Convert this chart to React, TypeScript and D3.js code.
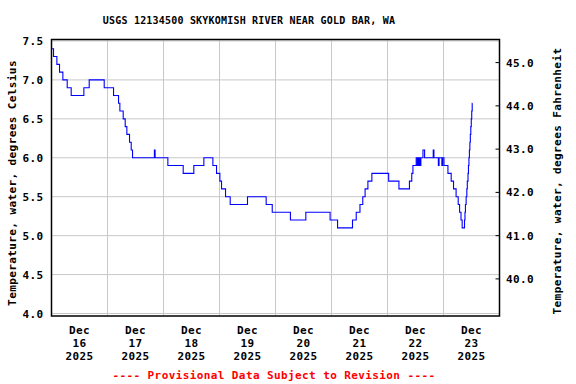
import React from "react";
import * as d3 from "d3";

const TITLE = "USGS 12134500 SKYKOMISH RIVER NEAR GOLD BAR, WA";
const Y_LABEL_LEFT = "Temperature, water, degrees Celsius";
const Y_LABEL_RIGHT = "Temperature, water, degrees Fahrenheit";
const FOOTER = "---- Provisional Data Subject to Revision ----";

// hours after 2025-12-16 00:00 at which the reading changed, and the new reading (deg C)
const changeHours = [
  0, 0.87, 2.3, 3.44, 4.87, 6.73, 8.44, 13.87, 16.16, 22.59, 26.59, 28.73, 29.3, 30.73,
  31.59, 32.3, 33.44, 34.16, 34.73, 44.1, 44.4, 49.87, 56.44, 61.0, 65.3, 69.16, 70.73,
  72.16, 72.87, 74.59, 76.59, 84.0, 92.0, 94.6, 102.4, 109.0, 119.4, 122.6, 129.0, 130.6,
  132.2, 133.4, 134.4, 135.6, 137.3, 144.5, 148.9, 153.4, 154.4, 154.9, 156.3, 156.8,
  157.1, 157.4, 157.7, 158.0, 158.3, 159.2, 159.9, 163.6, 163.9, 165.8, 166.1, 167.3,
  167.6, 168.2, 169.9, 171.3, 172.3, 173.4, 174.3, 174.9, 175.5, 176.0, 177.0, 177.2,
  177.4, 177.7, 178.0, 178.2, 178.5, 178.7, 178.9, 179.1, 179.3, 179.5, 179.7, 179.9,
  180.1, 180.3,
];
const tempC = [
  7.4, 7.3, 7.2, 7.1, 7.0, 6.9, 6.8, 6.9, 7.0, 6.9, 6.8, 6.7, 6.6, 6.5,
  6.4, 6.3, 6.2, 6.1, 6.0, 6.1, 6.0, 5.9, 5.8, 5.9, 6.0, 5.9, 5.8,
  5.7, 5.6, 5.5, 5.4, 5.5, 5.4, 5.3, 5.2, 5.3, 5.2, 5.1, 5.2, 5.3,
  5.4, 5.5, 5.6, 5.7, 5.8, 5.7, 5.6, 5.7, 5.8, 5.9, 6.0, 5.9,
  6.0, 5.9, 6.0, 5.9, 6.0, 6.1, 6.0, 6.1, 6.0, 5.9, 6.0, 5.9,
  6.0, 5.9, 5.8, 5.7, 5.6, 5.5, 5.4, 5.3, 5.2, 5.1, 5.2, 5.3,
  5.4, 5.5, 5.6, 5.7, 5.8, 5.9, 6.0, 6.1, 6.2, 6.3, 6.4, 6.5,
  6.6, 6.7,
];
const lastHour = 180.4;

const cTicks = [4.0, 4.5, 5.0, 5.5, 6.0, 6.5, 7.0, 7.5];
const fTicks = [40, 41, 42, 43, 44, 45];
const dayLabels = ["16", "17", "18", "19", "20", "21", "22", "23"];
const monthLabel = "Dec";
const yearLabel = "2025";

const W = 576;
const H = 384;
const left = 51.5;
const right = 499.5;
const top = 39.5;
const bottom = 316;

export default function App() {
  const start = new Date(Date.UTC(2025, 11, 16));
  const end = new Date(Date.UTC(2025, 11, 24));
  const x = d3.scaleUtc().domain([start, end]).range([left, right]);
  const y = d3.scaleLinear().domain([3.968, 7.519]).range([bottom, top]);
  const yF = d3
    .scaleLinear()
    .domain([3.968 * 1.8 + 32, 7.519 * 1.8 + 32])
    .range([bottom, top]);
  const t = (h: number) => new Date(start.getTime() + h * 3600 * 1000);

  const pts: [Date, number][] = changeHours.map((h, i) => [t(h), tempC[i]]);
  pts.push([t(lastHour), tempC[tempC.length - 1]]);

  const line = d3
    .line<[Date, number]>()
    .x((d) => x(d[0]))
    .y((d) => y(d[1]))
    .curve(d3.curveStepAfter);

  const days = d3.utcDay.range(start, end);
  const font = "'DejaVu Sans Mono', monospace";

  return (
    <svg
      width={W}
      height={H}
      style={{ position: "absolute", left: 0, top: 0, background: "#fff" }}
      fontFamily={font}
      fontWeight="bold"
    >
      <rect x={0} y={0} width={W} height={H} fill="#fff" />
      <text x={249} y={24} textAnchor="middle" fontSize={10} letterSpacing={0.2} fill="#000">
        {TITLE}
      </text>
      {/* grid */}
      {cTicks.map((c) => (
        <line key={"h" + c} x1={left} x2={right} y1={y(c)} y2={y(c)} stroke="#c8c8c8" strokeWidth={1} />
      ))}
      {days.slice(1).map((d) => (
        <line key={"v" + d.getTime()} x1={x(d)} x2={x(d)} y1={top} y2={bottom} stroke="#c8c8c8" strokeWidth={1} />
      ))}
      {/* data */}
      <path d={line(pts) || ""} fill="none" stroke="#0000ff" strokeWidth={1.1} />
      {/* frame */}
      <rect x={left} y={top} width={right - left} height={bottom - top} fill="none" stroke="#000" strokeWidth={1.5} />
      {/* right ticks */}
      {fTicks.map((f) => (
        <line key={"ft" + f} x1={right - 4} x2={right} y1={yF(f)} y2={yF(f)} stroke="#000" strokeWidth={1} />
      ))}
      {/* left labels */}
      {cTicks.map((c) => (
        <text key={"cl" + c} x={43.5} y={y(c) + 4} textAnchor="end" fontSize={11} letterSpacing={0.4} fill="#000">
          {c.toFixed(1)}
        </text>
      ))}
      {/* right labels */}
      {fTicks.map((f) => (
        <text key={"fl" + f} x={506} y={yF(f) + 4} textAnchor="start" fontSize={11} letterSpacing={0.4} fill="#000">
          {f.toFixed(1)}
        </text>
      ))}
      {/* x labels */}
      {days.map((d, i) => {
        const cx = x(new Date(d.getTime() + 12 * 3600 * 1000));
        return (
          <g key={"xl" + i} fontSize={11} fill="#000">
            <text x={cx} y={334} textAnchor="middle" letterSpacing={0.4}>{monthLabel}</text>
            <text x={cx} y={347} textAnchor="middle" letterSpacing={0.4}>{dayLabels[i]}</text>
            <text x={cx} y={360} textAnchor="middle" letterSpacing={0.4}>{yearLabel}</text>
          </g>
        );
      })}
      {/* axis titles */}
      <text
        transform={`translate(16,${183}) rotate(-90)`}
        textAnchor="middle"
        fontSize={11}
        letterSpacing={0.4}
        fill="#000"
      >
        {Y_LABEL_LEFT}
      </text>
      <text
        transform={`translate(561,${181}) rotate(-90)`}
        textAnchor="middle"
        fontSize={11}
        letterSpacing={0.4}
        fill="#000"
      >
        {Y_LABEL_RIGHT}
      </text>
      <text x={274} y={379} textAnchor="middle" fontSize={11} letterSpacing={0.4} fill="#ff0000">
        {FOOTER}
      </text>
    </svg>
  );
}
